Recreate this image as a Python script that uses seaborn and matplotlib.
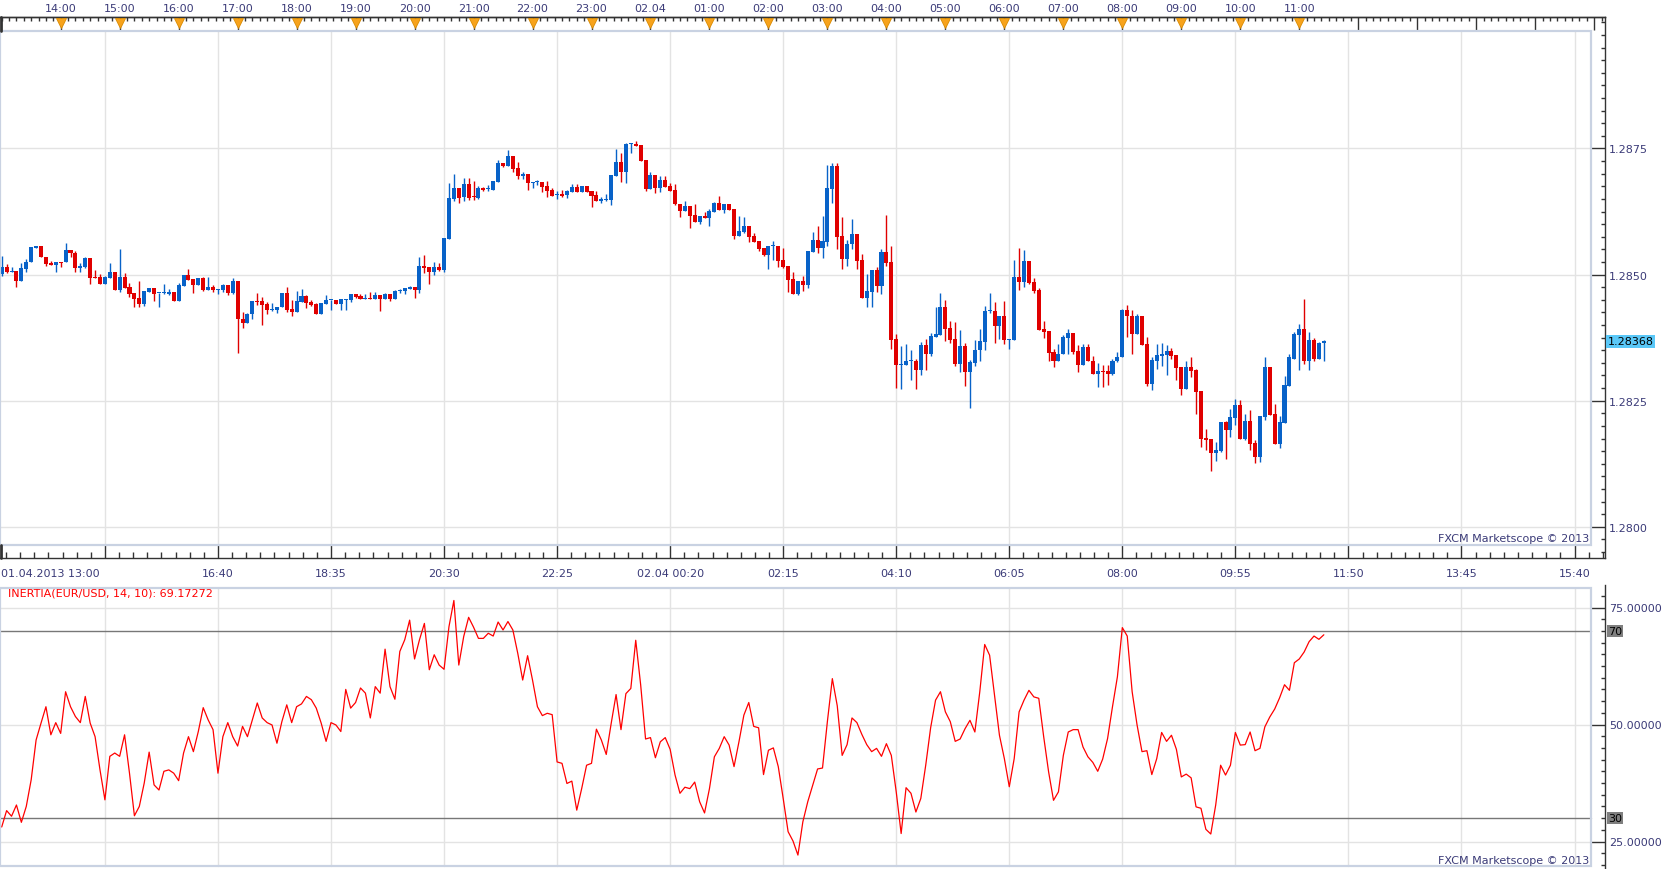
import numpy as np
import matplotlib
matplotlib.use("Agg")
import matplotlib.pyplot as plt
from matplotlib.patches import Rectangle
from matplotlib.lines import Line2D
from matplotlib.ticker import FixedLocator
import seaborn as sns

sns.set_theme(style="white")
plt.rcParams['font.family'] = ['DejaVu Sans']

# EUR/USD 5 minute bars, 01.04.2013 13:00 -> 02.04.2013 11:25
opens = [
    1.28502, 1.28515, 1.28505, 1.28507, 1.28488, 1.28511, 1.28524, 1.28553, 1.28557, 1.28535,
    1.28523, 1.28520, 1.28524, 1.28524, 1.28549, 1.28543, 1.28514, 1.28516, 1.28533, 1.28494,
    1.28495, 1.28482, 1.28494, 1.28505, 1.28470, 1.28495, 1.28475, 1.28464, 1.28454, 1.28442,
    1.28466, 1.28474, 1.28463, 1.28463, 1.28462, 1.28466, 1.28448, 1.28478, 1.28499, 1.28491,
    1.28480, 1.28493, 1.28470, 1.28475, 1.28470, 1.28470, 1.28479, 1.28464, 1.28487, 1.28412,
    1.28405, 1.28421, 1.28448, 1.28448, 1.28442, 1.28429, 1.28430, 1.28435, 1.28464, 1.28432,
    1.28425, 1.28446, 1.28458, 1.28446, 1.28442, 1.28421, 1.28442, 1.28449, 1.28450, 1.28442,
    1.28450, 1.28450, 1.28462, 1.28458, 1.28452, 1.28454, 1.28451, 1.28460, 1.28451, 1.28462,
    1.28451, 1.28467, 1.28467, 1.28472, 1.28475, 1.28470, 1.28517, 1.28516, 1.28506, 1.28516,
    1.28510, 1.28571, 1.28650, 1.28672, 1.28654, 1.28680, 1.28654, 1.28652, 1.28672, 1.28670,
    1.28668, 1.28684, 1.28721, 1.28715, 1.28735, 1.28711, 1.28696, 1.28700, 1.28682, 1.28683,
    1.28684, 1.28676, 1.28668, 1.28657, 1.28660, 1.28657, 1.28664, 1.28674, 1.28664, 1.28676,
    1.28666, 1.28658, 1.28646, 1.28648, 1.28648, 1.28696, 1.28723, 1.28703, 1.28758, 1.28759,
    1.28757, 1.28727, 1.28670, 1.28698, 1.28672, 1.28688, 1.28676, 1.28668, 1.28640, 1.28627,
    1.28636, 1.28618, 1.28605, 1.28616, 1.28612, 1.28625, 1.28642, 1.28628, 1.28640, 1.28630,
    1.28577, 1.28585, 1.28596, 1.28577, 1.28567, 1.28553, 1.28539, 1.28556, 1.28557, 1.28529,
    1.28517, 1.28491, 1.28462, 1.28487, 1.28479, 1.28545, 1.28569, 1.28553, 1.28565, 1.28670,
    1.28715, 1.28577, 1.28531, 1.28560, 1.28581, 1.28529, 1.28454, 1.28466, 1.28509, 1.28478,
    1.28545, 1.28525, 1.28372, 1.28320, 1.28321, 1.28328, 1.28329, 1.28310, 1.28360, 1.28343,
    1.28377, 1.28381, 1.28436, 1.28394, 1.28372, 1.28323, 1.28358, 1.28306, 1.28325, 1.28350,
    1.28367, 1.28427, 1.28428, 1.28399, 1.28418, 1.28371, 1.28371, 1.28495, 1.28486, 1.28527,
    1.28485, 1.28470, 1.28392, 1.28388, 1.28346, 1.28328, 1.28342, 1.28375, 1.28384, 1.28348,
    1.28321, 1.28357, 1.28329, 1.28302, 1.28309, 1.28308, 1.28302, 1.28328, 1.28336, 1.28430,
    1.28418, 1.28383, 1.28418, 1.28362, 1.28284, 1.28329, 1.28339, 1.28341, 1.28349, 1.28341,
    1.28316, 1.28274, 1.28316, 1.28310, 1.28269, 1.28177, 1.28175, 1.28147, 1.28151, 1.28207,
    1.28191, 1.28216, 1.28242, 1.28175, 1.28210, 1.28167, 1.28139, 1.28218, 1.28316, 1.28224,
    1.28165, 1.28205, 1.28280, 1.28333, 1.28381, 1.28393, 1.28328, 1.28371, 1.28333, 1.28364,
]
highs = [
    1.28537, 1.28521, 1.28515, 1.28507, 1.28523, 1.28531, 1.28555, 1.28557, 1.28557, 1.28535,
    1.28527, 1.28525, 1.28524, 1.28563, 1.28549, 1.28546, 1.28523, 1.28535, 1.28533, 1.28509,
    1.28501, 1.28497, 1.28523, 1.28505, 1.28551, 1.28503, 1.28483, 1.28464, 1.28487, 1.28468,
    1.28474, 1.28474, 1.28464, 1.28481, 1.28472, 1.28466, 1.28483, 1.28499, 1.28511, 1.28491,
    1.28493, 1.28496, 1.28496, 1.28479, 1.28471, 1.28481, 1.28479, 1.28493, 1.28487, 1.28426,
    1.28424, 1.28448, 1.28464, 1.28456, 1.28446, 1.28444, 1.28436, 1.28464, 1.28476, 1.28449,
    1.28468, 1.28472, 1.28460, 1.28450, 1.28444, 1.28444, 1.28460, 1.28450, 1.28450, 1.28452,
    1.28451, 1.28462, 1.28462, 1.28462, 1.28462, 1.28466, 1.28466, 1.28460, 1.28464, 1.28462,
    1.28470, 1.28472, 1.28474, 1.28477, 1.28475, 1.28535, 1.28539, 1.28516, 1.28525, 1.28523,
    1.28573, 1.28682, 1.28700, 1.28672, 1.28692, 1.28692, 1.28686, 1.28676, 1.28674, 1.28678,
    1.28686, 1.28727, 1.28721, 1.28747, 1.28735, 1.28724, 1.28703, 1.28700, 1.28683, 1.28688,
    1.28684, 1.28686, 1.28672, 1.28666, 1.28668, 1.28668, 1.28680, 1.28680, 1.28676, 1.28676,
    1.28666, 1.28666, 1.28654, 1.28660, 1.28698, 1.28749, 1.28741, 1.28761, 1.28761, 1.28765,
    1.28757, 1.28727, 1.28703, 1.28698, 1.28696, 1.28695, 1.28682, 1.28680, 1.28640, 1.28646,
    1.28636, 1.28640, 1.28616, 1.28624, 1.28630, 1.28643, 1.28655, 1.28640, 1.28640, 1.28630,
    1.28617, 1.28614, 1.28596, 1.28583, 1.28567, 1.28553, 1.28557, 1.28567, 1.28557, 1.28553,
    1.28517, 1.28505, 1.28487, 1.28497, 1.28547, 1.28585, 1.28596, 1.28616, 1.28717, 1.28722,
    1.28721, 1.28614, 1.28569, 1.28610, 1.28581, 1.28541, 1.28501, 1.28509, 1.28515, 1.28551,
    1.28618, 1.28557, 1.28382, 1.28359, 1.28362, 1.28351, 1.28333, 1.28366, 1.28372, 1.28384,
    1.28435, 1.28464, 1.28450, 1.28408, 1.28406, 1.28390, 1.28364, 1.28331, 1.28370, 1.28392,
    1.28438, 1.28464, 1.28446, 1.28418, 1.28448, 1.28372, 1.28529, 1.28553, 1.28549, 1.28527,
    1.28493, 1.28474, 1.28408, 1.28388, 1.28353, 1.28362, 1.28380, 1.28392, 1.28384, 1.28360,
    1.28362, 1.28362, 1.28339, 1.28325, 1.28321, 1.28320, 1.28333, 1.28346, 1.28432, 1.28440,
    1.28430, 1.28422, 1.28418, 1.28377, 1.28337, 1.28362, 1.28364, 1.28360, 1.28355, 1.28341,
    1.28316, 1.28328, 1.28336, 1.28312, 1.28269, 1.28193, 1.28175, 1.28169, 1.28207, 1.28209,
    1.28234, 1.28254, 1.28252, 1.28224, 1.28232, 1.28173, 1.28220, 1.28337, 1.28316, 1.28244,
    1.28220, 1.28298, 1.28342, 1.28387, 1.28403, 1.28452, 1.28387, 1.28375, 1.28367, 1.28371,
]
lows = [
    1.28497, 1.28503, 1.28505, 1.28476, 1.28488, 1.28506, 1.28524, 1.28552, 1.28534, 1.28518,
    1.28520, 1.28506, 1.28516, 1.28524, 1.28534, 1.28506, 1.28506, 1.28514, 1.28482, 1.28493,
    1.28482, 1.28482, 1.28494, 1.28470, 1.28465, 1.28474, 1.28456, 1.28435, 1.28435, 1.28438,
    1.28466, 1.28448, 1.28435, 1.28462, 1.28460, 1.28448, 1.28448, 1.28478, 1.28490, 1.28464,
    1.28480, 1.28467, 1.28470, 1.28466, 1.28462, 1.28466, 1.28460, 1.28462, 1.28345, 1.28395,
    1.28405, 1.28411, 1.28440, 1.28401, 1.28421, 1.28427, 1.28423, 1.28435, 1.28425, 1.28417,
    1.28425, 1.28446, 1.28433, 1.28438, 1.28421, 1.28421, 1.28442, 1.28430, 1.28442, 1.28429,
    1.28430, 1.28446, 1.28454, 1.28452, 1.28452, 1.28451, 1.28451, 1.28427, 1.28451, 1.28448,
    1.28451, 1.28464, 1.28462, 1.28472, 1.28454, 1.28464, 1.28504, 1.28482, 1.28500, 1.28507,
    1.28506, 1.28571, 1.28645, 1.28642, 1.28645, 1.28647, 1.28647, 1.28650, 1.28666, 1.28666,
    1.28668, 1.28684, 1.28714, 1.28715, 1.28703, 1.28690, 1.28690, 1.28668, 1.28672, 1.28678,
    1.28664, 1.28654, 1.28656, 1.28650, 1.28654, 1.28652, 1.28664, 1.28664, 1.28664, 1.28664,
    1.28634, 1.28646, 1.28642, 1.28646, 1.28638, 1.28696, 1.28684, 1.28682, 1.28741, 1.28755,
    1.28725, 1.28666, 1.28670, 1.28662, 1.28664, 1.28674, 1.28666, 1.28637, 1.28615, 1.28627,
    1.28593, 1.28605, 1.28601, 1.28612, 1.28597, 1.28625, 1.28628, 1.28622, 1.28628, 1.28571,
    1.28577, 1.28583, 1.28565, 1.28565, 1.28546, 1.28537, 1.28511, 1.28529, 1.28515, 1.28513,
    1.28466, 1.28462, 1.28460, 1.28468, 1.28474, 1.28545, 1.28543, 1.28533, 1.28557, 1.28642,
    1.28551, 1.28511, 1.28517, 1.28551, 1.28511, 1.28454, 1.28436, 1.28435, 1.28466, 1.28462,
    1.28517, 1.28353, 1.28276, 1.28274, 1.28321, 1.28292, 1.28274, 1.28300, 1.28310, 1.28339,
    1.28377, 1.28381, 1.28369, 1.28365, 1.28318, 1.28306, 1.28280, 1.28236, 1.28318, 1.28328,
    1.28350, 1.28423, 1.28365, 1.28372, 1.28363, 1.28352, 1.28371, 1.28470, 1.28476, 1.28481,
    1.28464, 1.28391, 1.28375, 1.28328, 1.28316, 1.28328, 1.28342, 1.28342, 1.28343, 1.28306,
    1.28321, 1.28328, 1.28302, 1.28278, 1.28278, 1.28282, 1.28300, 1.28326, 1.28336, 1.28377,
    1.28342, 1.28383, 1.28361, 1.28280, 1.28272, 1.28312, 1.28318, 1.28300, 1.28333, 1.28292,
    1.28262, 1.28274, 1.28296, 1.28224, 1.28159, 1.28153, 1.28111, 1.28131, 1.28148, 1.28135,
    1.28179, 1.28201, 1.28175, 1.28173, 1.28153, 1.28127, 1.28129, 1.28212, 1.28222, 1.28165,
    1.28157, 1.28205, 1.28280, 1.28333, 1.28310, 1.28323, 1.28310, 1.28328, 1.28333, 1.28329,
]
closes = [
    1.28515, 1.28506, 1.28506, 1.28488, 1.28513, 1.28525, 1.28555, 1.28557, 1.28534, 1.28521,
    1.28520, 1.28525, 1.28523, 1.28549, 1.28542, 1.28514, 1.28518, 1.28533, 1.28494, 1.28493,
    1.28482, 1.28495, 1.28505, 1.28470, 1.28495, 1.28474, 1.28462, 1.28452, 1.28442, 1.28468,
    1.28474, 1.28462, 1.28464, 1.28464, 1.28466, 1.28448, 1.28479, 1.28499, 1.28490, 1.28480,
    1.28493, 1.28470, 1.28475, 1.28470, 1.28471, 1.28479, 1.28464, 1.28487, 1.28411, 1.28405,
    1.28422, 1.28448, 1.28446, 1.28440, 1.28429, 1.28432, 1.28436, 1.28464, 1.28430, 1.28425,
    1.28448, 1.28458, 1.28444, 1.28440, 1.28421, 1.28444, 1.28450, 1.28450, 1.28442, 1.28452,
    1.28451, 1.28462, 1.28456, 1.28452, 1.28453, 1.28451, 1.28460, 1.28451, 1.28462, 1.28451,
    1.28468, 1.28468, 1.28474, 1.28475, 1.28470, 1.28517, 1.28514, 1.28506, 1.28516, 1.28510,
    1.28573, 1.28652, 1.28672, 1.28652, 1.28680, 1.28652, 1.28653, 1.28672, 1.28668, 1.28671,
    1.28686, 1.28721, 1.28715, 1.28735, 1.28709, 1.28696, 1.28700, 1.28682, 1.28683, 1.28684,
    1.28674, 1.28666, 1.28656, 1.28660, 1.28656, 1.28666, 1.28674, 1.28664, 1.28676, 1.28664,
    1.28656, 1.28646, 1.28650, 1.28649, 1.28698, 1.28723, 1.28703, 1.28759, 1.28759, 1.28755,
    1.28725, 1.28670, 1.28698, 1.28672, 1.28688, 1.28674, 1.28666, 1.28639, 1.28627, 1.28636,
    1.28617, 1.28605, 1.28616, 1.28612, 1.28626, 1.28642, 1.28628, 1.28640, 1.28628, 1.28577,
    1.28587, 1.28596, 1.28575, 1.28565, 1.28551, 1.28539, 1.28557, 1.28557, 1.28527, 1.28515,
    1.28489, 1.28462, 1.28487, 1.28479, 1.28547, 1.28569, 1.28553, 1.28567, 1.28672, 1.28715,
    1.28575, 1.28531, 1.28561, 1.28581, 1.28527, 1.28454, 1.28468, 1.28509, 1.28478, 1.28545,
    1.28523, 1.28371, 1.28320, 1.28323, 1.28329, 1.28329, 1.28310, 1.28360, 1.28343, 1.28378,
    1.28382, 1.28436, 1.28393, 1.28371, 1.28323, 1.28358, 1.28306, 1.28327, 1.28351, 1.28368,
    1.28428, 1.28428, 1.28399, 1.28418, 1.28371, 1.28372, 1.28495, 1.28486, 1.28527, 1.28483,
    1.28468, 1.28391, 1.28387, 1.28345, 1.28328, 1.28343, 1.28376, 1.28384, 1.28347, 1.28321,
    1.28357, 1.28328, 1.28302, 1.28309, 1.28306, 1.28302, 1.28329, 1.28337, 1.28430, 1.28417,
    1.28383, 1.28418, 1.28361, 1.28284, 1.28331, 1.28341, 1.28343, 1.28349, 1.28339, 1.28314,
    1.28274, 1.28316, 1.28308, 1.28268, 1.28175, 1.28173, 1.28147, 1.28153, 1.28207, 1.28191,
    1.28218, 1.28242, 1.28175, 1.28210, 1.28165, 1.28139, 1.28220, 1.28316, 1.28222, 1.28165,
    1.28207, 1.28282, 1.28336, 1.28383, 1.28393, 1.28328, 1.28371, 1.28333, 1.28365, 1.28368,
]
inertia = [
    28.1, 31.6, 30.4, 32.8, 29.1, 32.5, 38.2, 46.7, 50.3, 53.8,
    47.8, 50.4, 48.1, 57.0, 53.8, 51.7, 50.4, 56.0, 50.3, 47.4,
    40.3, 33.9, 43.2, 43.9, 43.2, 47.8, 39.6, 30.5, 32.5, 37.5,
    44.1, 37.1, 36.0, 40.0, 40.3, 39.6, 38.0, 43.9, 47.4, 44.2,
    48.5, 53.6, 51.0, 48.9, 39.6, 47.4, 50.4, 47.4, 45.4, 49.6,
    47.4, 51.0, 54.6, 51.4, 50.4, 49.9, 46.0, 50.6, 54.2, 50.4,
    53.8, 54.4, 56.0, 55.3, 53.5, 50.3, 46.4, 50.4, 49.9, 48.5,
    57.5, 53.5, 54.7, 57.8, 56.7, 51.4, 58.1, 56.7, 66.1, 58.1,
    55.4, 65.6, 68.1, 72.3, 64.0, 68.1, 71.6, 61.7, 64.9, 62.7,
    61.8, 70.9, 76.5, 62.7, 68.8, 72.9, 70.8, 68.4, 68.4, 69.5,
    68.9, 71.9, 70.2, 72.0, 70.2, 65.2, 59.5, 64.7, 59.5, 53.8,
    51.9, 52.4, 52.1, 42.0, 41.7, 37.4, 37.9, 31.7, 36.3, 41.3,
    41.7, 49.0, 46.7, 43.6, 50.2, 56.4, 48.9, 56.6, 57.7, 68.0,
    58.5, 46.9, 47.2, 42.9, 46.3, 47.2, 44.7, 39.2, 35.3, 36.6,
    36.3, 37.7, 33.5, 31.1, 36.3, 43.1, 44.9, 47.4, 45.6, 41.0,
    46.3, 52.0, 54.7, 49.6, 49.3, 39.3, 44.5, 45.0, 41.0, 34.2,
    27.1, 25.1, 22.1, 29.2, 33.5, 37.0, 40.5, 40.7, 50.7, 59.8,
    54.0, 43.4, 45.7, 51.4, 50.4, 47.9, 45.7, 44.2, 44.9, 43.2,
    45.9, 43.4, 35.6, 26.7, 36.5, 35.3, 31.3, 34.2, 41.3, 49.3,
    55.2, 57.0, 52.7, 50.6, 46.4, 46.9, 49.1, 50.9, 48.4, 57.0,
    67.1, 64.8, 56.3, 47.7, 42.7, 36.7, 42.7, 52.7, 55.2, 57.3,
    55.9, 55.6, 47.4, 39.9, 33.8, 35.6, 43.4, 48.4, 48.9, 48.9,
    45.2, 43.1, 41.9, 40.0, 42.6, 47.0, 53.8, 60.2, 70.7, 68.9,
    57.0, 49.9, 44.2, 44.4, 39.3, 42.7, 48.3, 46.4, 47.7, 44.7,
    38.8, 39.4, 38.6, 32.4, 32.1, 27.6, 26.6, 32.8, 41.3, 39.2,
    41.3, 48.3, 45.6, 45.7, 48.4, 44.4, 44.9, 49.5, 51.6, 53.3,
    55.7, 58.5, 57.3, 63.2, 64.0, 65.5, 67.7, 68.9, 68.2, 69.17,
]

top_labels = ['14:00', '15:00', '16:00', '17:00', '18:00', '19:00', '20:00', '21:00',
              '22:00', '23:00', '02.04', '01:00', '02:00', '03:00', '04:00', '05:00',
              '06:00', '07:00', '08:00', '09:00', '10:00', '11:00']
bottom_labels = ['', '16:40', '18:35', '20:30', '22:25', '02.04 00:20', '02:15', '04:10',
                 '06:05', '08:00', '09:55', '11:50', '13:45', '15:40']
first_label = '01.04.2013 13:00'
price_ticks = [1.2800, 1.2825, 1.2850, 1.2875]
inertia_ticks = [25, 50, 75]
inertia_levels = [70, 30]
last_price = 1.28368
last_inertia = 69.17272

# ---- layout (pixels of a 1663x870 canvas)
W, H = 1663, 870
AX_RIGHT = 1605
FRAME_RIGHT = 1591
BAR_PX = 4.915
BAR0_PX = 1.7

TXT = '#3b3b78'
DARK = '#333333'
GRID = '#e3e3e3'
FRAME = '#c9d2e2'
BLUE = '#0862c8'
RED = '#e00000'


def fx(px):
    return px / W


def fy(py):
    return 1 - py / H


def bar_at(px):
    return (px - BAR0_PX) / BAR_PX


def price_at(py):
    return 1.2875 + (149.5 - py) * 0.0025 / 126.1


def inertia_at(py):
    return 50 + (725.5 - py) * 25 / 117.0


fig = plt.figure(figsize=(W / 100, H / 100), dpi=100)
fig.patch.set_facecolor('white')

ax = fig.add_axes([0, fy(559), fx(AX_RIGHT), (559 - 18.3) / H])
ax2 = fig.add_axes([0, 0, fx(AX_RIGHT), (870 - 586) / H])
for a in (ax, ax2):
    a.set_facecolor('white')
    a.set_xlim(bar_at(0), bar_at(AX_RIGHT))

# inner frames
fig.add_artist(Rectangle((0, fy(546)), fx(FRAME_RIGHT), (546 - 32) / H,
                         transform=fig.transFigure, fill=False, ec=FRAME, lw=1.6))
fig.add_artist(Rectangle((0, fy(867)), fx(FRAME_RIGHT), (867 - 589) / H,
                         transform=fig.transFigure, fill=False, ec=FRAME, lw=1.6))
for y1, y2 in [(18.3, 32), (546, 559)]:
    fig.add_artist(Line2D([fx(1), fx(1)], [fy(y1), fy(y2)], transform=fig.transFigure,
                          color=DARK, lw=2))

grid_idx = np.arange(21, 330, 23)
hour_idx = np.arange(12, 330, 12)

# ---- price panel
main_lo, main_hi = price_at(559), price_at(18.3)
ft = (559 - 32) / (559 - 18.3)
fb = (559 - 546) / (559 - 18.3)
for gx in grid_idx:
    ax.axvline(gx, fb, ft, color=GRID, lw=1, zorder=0)
for p in price_ticks:
    ax.axhline(p, 0, FRAME_RIGHT / AX_RIGHT, color=GRID, lw=1, zorder=0)

o = np.array(opens)
h = np.array(highs)
l = np.array(lows)
c = np.array(closes)
idx = np.arange(len(o))
colors = np.where(c >= o, BLUE, RED)
ax.vlines(idx, l, h, colors=colors, linewidth=1.0, zorder=2)
ax.bar(idx, np.maximum(np.abs(c - o), 0.00002), bottom=np.minimum(o, c), width=0.82,
       color=colors, linewidth=0, zorder=3)

ax.set_ylim(main_lo, main_hi)
for s in ('top', 'right', 'bottom'):
    ax.spines[s].set_color(DARK)
    ax.spines[s].set_linewidth(1.0)
ax.spines['left'].set_visible(False)

ax.yaxis.tick_right()
ax.set_yticks(price_ticks)
ax.set_yticklabels([f'{p:.4f}' for p in price_ticks])
ax.yaxis.set_minor_locator(FixedLocator(np.arange(1.27950, 1.29010, 0.00025)))
ax.tick_params(axis='y', which='major', direction='in', length=10, width=1, color=DARK,
               labelsize=8, labelcolor=TXT, pad=3, right=True, left=False)
ax.tick_params(axis='y', which='minor', direction='in', length=3, width=1, color=DARK,
               right=True, left=False)

ax.set_xticks(grid_idx)
ax.set_xticklabels(bottom_labels)
ax.xaxis.set_minor_locator(FixedLocator(np.arange(0.875, 327, 23 / 8)))
ax.tick_params(axis='x', which='major', direction='in', length=10, width=1, color=DARK,
               labelsize=8, labelcolor=TXT, pad=7, bottom=True, top=False)
ax.tick_params(axis='x', which='minor', direction='in', length=4, width=1, color=DARK,
               bottom=True, top=False)
fig.text(fx(1), fy(574), first_label, ha='left', va='center', fontsize=8, color=TXT)

# top time axis
secax = ax.secondary_xaxis('top')
secax.set_xticks(hour_idx)
secax.set_xticklabels(top_labels + [''] * (len(hour_idx) - len(top_labels)))
secax.xaxis.set_minor_locator(FixedLocator(np.arange(0, 327, 1.5)))
secax.tick_params(axis='x', which='major', direction='in', length=9, width=1, color=DARK,
                  labelsize=8, labelcolor=TXT, pad=3, top=True, labeltop=True)
secax.tick_params(axis='x', which='minor', direction='in', length=3, width=1, color=DARK,
                  top=True)
secax.spines['top'].set_color(DARK)
secax.spines['top'].set_linewidth(1.0)
ax.plot(hour_idx[:len(top_labels)], [(559 - 23.5) / (559 - 18.3)] * len(top_labels),
        ls='none', marker='v', ms=7, color='#f7a31c', mec='#d98a00', mew=0.6,
        transform=ax.get_xaxis_transform(), clip_on=False, zorder=5)

ax.text(1.0015, last_price, f'{last_price:.5f}', transform=ax.get_yaxis_transform(),
        ha='left', va='center', fontsize=8, color='black',
        bbox=dict(boxstyle='square,pad=0.15', fc='#5ac8f8', ec='none'))
fig.text(fx(1589), fy(539), 'FXCM Marketscope \u00a9 2013', ha='right', va='center',
         fontsize=8, color=TXT)

# ---- inertia panel
ft2 = (870 - 589) / (870 - 586)
fb2 = (870 - 867) / (870 - 586)
for gx in grid_idx:
    ax2.axvline(gx, fb2, ft2, color=GRID, lw=1, zorder=0)
for v in inertia_ticks:
    ax2.axhline(v, 0, FRAME_RIGHT / AX_RIGHT, color=GRID, lw=1, zorder=0)
for v in inertia_levels:
    ax2.axhline(v, 0, FRAME_RIGHT / AX_RIGHT, color='#777777', lw=1, zorder=1)

sns.lineplot(x=idx, y=inertia, ax=ax2, color='#ff0000', linewidth=0.9, zorder=3)
ax2.set_xlabel('')
ax2.set_ylabel('')
ax2.set_xlim(bar_at(0), bar_at(AX_RIGHT))
ax2.set_ylim(inertia_at(870), inertia_at(586))
for s in ('top', 'left', 'bottom'):
    ax2.spines[s].set_visible(False)
ax2.spines['right'].set_color(DARK)
ax2.spines['right'].set_linewidth(1.0)
ax2.set_xticks([])
ax2.yaxis.tick_right()
ax2.set_yticks(inertia_ticks)
ax2.set_yticklabels([f'{v:.5f}' for v in inertia_ticks])
ax2.yaxis.set_minor_locator(FixedLocator(np.arange(20, 80, 2.5)))
ax2.tick_params(axis='y', which='major', direction='in', length=10, width=1, color=DARK,
                labelsize=8, labelcolor=TXT, pad=3, right=True, left=False)
ax2.tick_params(axis='y', which='minor', direction='in', length=3, width=1, color=DARK,
                right=True, left=False)
for v in inertia_levels:
    ax2.text(1.002, v, str(v), transform=ax2.get_yaxis_transform(), ha='left', va='center',
             fontsize=8, color='black',
             bbox=dict(boxstyle='square,pad=0.1', fc='#7f7f7f', ec='none'))

fig.text(fx(8), fy(594), f'INERTIA(EUR/USD, 14, 10): {last_inertia:.5f}', ha='left',
         va='center', fontsize=8, color='#ff0000')
fig.text(fx(1589), fy(861), 'FXCM Marketscope \u00a9 2013', ha='right', va='center',
         fontsize=8, color=TXT)

fig.savefig('out.png', dpi=100, facecolor='white')
